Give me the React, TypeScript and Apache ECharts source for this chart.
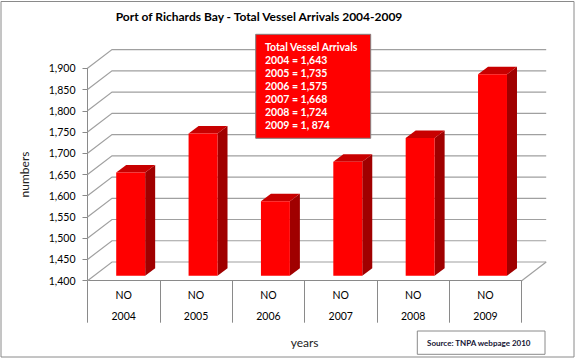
import React, { useEffect, useRef } from "react";
import * as echarts from "echarts";

const YEARS = ["2004", "2005", "2006", "2007", "2008", "2009"];
const ARRIVALS = [1643, 1735, 1575, 1668, 1724, 1874];
const ROW_LABEL = "NO";
const Y_MIN = 1400;
const Y_MAX = 1900;
const Y_STEP = 50;
const Y_TICKS = [1400, 1450, 1500, 1550, 1600, 1650, 1700, 1750, 1800, 1850, 1900];
const BOX_TITLE = "Total Vessel Arrivals";
const BOX_LINES = ["2004 = 1,643", "2005 = 1,735", "2006 = 1,575", "2007 = 1,668", "2008 = 1,724", "2009 = 1, 874"];
const TITLE = "Port of Richards Bay - Total Vessel Arrivals 2004-2009";
const SOURCE = "Source: TNPA webpage 2010";

const FONT = "Lato";
const GRAY = "#8a8a8a";
const WALL_DX = 24.5;
const WALL_DY = -18.7;
const BAR_OFF_X = 7;
const BAR_OFF_Y = -5;
const BAR_DX = 10;
const BAR_DY = -7.5;

export default function App() {
  const ref = useRef<HTMLDivElement>(null);
  useEffect(() => {
    document.body.style.margin = "0";
    const chart = echarts.init(ref.current!, null, { renderer: "svg" });
    const option: any = {
      animation: false,
      backgroundColor: "#ffffff",
      textStyle: { fontFamily: FONT },
      grid: { left: 87.5, right: 54.3, top: 68.3, bottom: 77.3, containLabel: false },
      xAxis: {
        type: "category",
        data: YEARS,
        name: "years",
        nameLocation: "middle",
        nameGap: 56,
        nameTextStyle: { fontFamily: FONT, fontSize: 12, color: "#222" },
        axisLine: { show: true, lineStyle: { color: GRAY, width: 1 } },
        axisTick: { show: true, length: 42, interval: 0, lineStyle: { color: GRAY, width: 1 } },
        axisLabel: {
          interval: 0,
          margin: 3,
          formatter: (val: string) => `{a|${ROW_LABEL}}\n{a|${val}}`,
          rich: { a: { fontFamily: FONT, fontSize: 10.5, color: "#000", lineHeight: 21.7 } },
        },
        splitLine: { show: false },
      },
      yAxis: {
        type: "value",
        min: Y_MIN,
        max: Y_MAX,
        interval: Y_STEP,
        name: "numbers",
        nameLocation: "middle",
        nameGap: 57,
        nameRotate: 90,
        nameTextStyle: { fontFamily: FONT, fontSize: 12, color: "#222" },
        axisLine: { show: true, lineStyle: { color: GRAY, width: 1 } },
        axisTick: { show: true, length: 5, lineStyle: { color: GRAY } },
        axisLabel: {
          margin: 12,
          fontFamily: FONT,
          fontSize: 10.5,
          color: "#000",
          formatter: (v: number) => v.toLocaleString("en-US"),
        },
        splitLine: { show: false },
      },
      series: [
        {
          type: "custom",
          z: 1,
          clip: false,
          silent: true,
          data: Y_TICKS.map((v) => [0, v]),
          renderItem: (params: any, api: any) => {
            const v = api.value(1);
            const y = api.coord([0, v])[1];
            const cs = params.coordSys;
            const children: any[] = [
              {
                type: "polyline",
                shape: {
                  points: [
                    [cs.x, y],
                    [cs.x + WALL_DX, y + WALL_DY],
                    [cs.x + cs.width + WALL_DX, y + WALL_DY],
                  ],
                },
                style: { stroke: "#a0a0a0", lineWidth: 1.2, fill: null },
              },
            ];
            if (v === Y_MIN) {
              children.push({
                type: "line",
                shape: { x1: cs.x + cs.width, y1: y, x2: cs.x + cs.width + WALL_DX, y2: y + WALL_DY },
                style: { stroke: "#a0a0a0", lineWidth: 1.2 },
              });
            }
            return { type: "group", children };
          },
        },
        {
          type: "custom",
          z: 2,
          clip: false,
          data: ARRIVALS.map((v, i) => [i, v]),
          renderItem: (params: any, api: any) => {
            const i = api.value(0);
            const v = api.value(1);
            const top = api.coord([i, v]);
            const base = api.coord([i, Y_MIN]);
            const band = api.size([1, 0])[0];
            const w = band * 0.4;
            const cx = top[0] + BAR_OFF_X;
            const xl = cx - w / 2;
            const xr = cx + w / 2;
            const yt = top[1] + BAR_OFF_Y;
            const yb = base[1] + BAR_OFF_Y;
            return {
              type: "group",
              children: [
                {
                  type: "polygon",
                  shape: { points: [[xr, yt], [xr + BAR_DX, yt + BAR_DY], [xr + BAR_DX, yb + BAR_DY], [xr, yb]] },
                  style: { fill: "#a00000" },
                },
                {
                  type: "polygon",
                  shape: { points: [[xl, yt], [xl + BAR_DX, yt + BAR_DY], [xr + BAR_DX, yt + BAR_DY], [xr, yt]] },
                  style: { fill: "#c80000" },
                },
                {
                  type: "rect",
                  shape: { x: xl, y: yt, width: w, height: yb - yt },
                  style: { fill: "#ff0000" },
                },
              ],
            };
          },
        },
      ],
      graphic: [
        {
          type: "rect",
          shape: { x: 1, y: 1.5, width: 573, height: 355.5 },
          style: { fill: "none", stroke: GRAY, lineWidth: 1 },
          silent: true,
        },
        {
          type: "text",
          x: 259,
          y: 16,
          style: {
            text: TITLE,
            fontFamily: FONT,
            fontSize: 12,
            fontWeight: "bold",
            fill: "#000",
            textAlign: "center",
            textVerticalAlign: "middle",
          },
        },
        {
          type: "rect",
          z: 10,
          shape: { x: 255.7, y: 34.3, width: 115, height: 104 },
          style: { fill: "#ff0000", stroke: "#808080", lineWidth: 1 },
        },
        {
          type: "text",
          z: 11,
          x: 265,
          y: 40.2,
          style: {
            text: [BOX_TITLE, ...BOX_LINES].join("\n"),
            fontFamily: FONT,
            fontSize: 10.5,
            fontWeight: "bold",
            lineHeight: 13,
            fill: "#ffffff",
            textAlign: "left",
            textVerticalAlign: "top",
          },
        },
        {
          type: "rect",
          shape: { x: 417.3, y: 331, width: 127.7, height: 23.3 },
          style: { fill: "#fff", stroke: GRAY, lineWidth: 1 },
        },
        {
          type: "text",
          x: 427,
          y: 342.5,
          style: {
            text: SOURCE,
            fontFamily: FONT,
            fontSize: 8,
            fontWeight: "bold",
            fill: "#141433",
            textAlign: "left",
            textVerticalAlign: "middle",
          },
        },
      ],
    };
    chart.setOption(option);
    return () => chart.dispose();
  }, []);
  return <div ref={ref} style={{ position: "fixed", left: 0, top: 0, width: 576, height: 358 }} />;
}
